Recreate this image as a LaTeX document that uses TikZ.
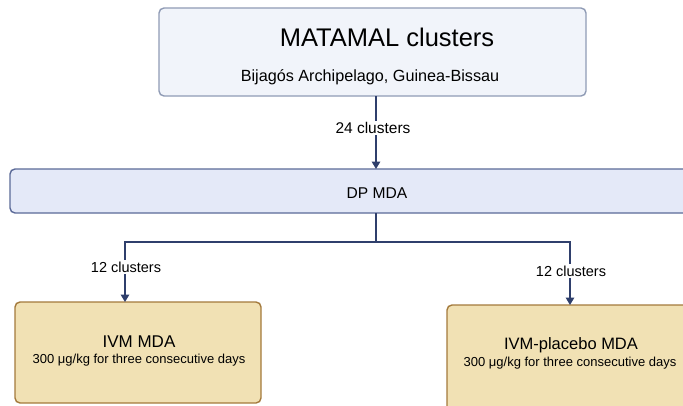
\documentclass[tikz,border=0pt]{standalone}
\usepackage{fontspec}
\setmainfont{Liberation Sans}
\usetikzlibrary{arrows.meta}
\definecolor{topfill}{HTML}{F1F4FA}
\definecolor{topdraw}{HTML}{8F9BB5}
\definecolor{dpfill}{HTML}{E4E9F8}
\definecolor{dpdraw}{HTML}{5B6A98}
\definecolor{armfill}{HTML}{F1E1B4}
\definecolor{armdraw}{HTML}{A47A3C}
\definecolor{flow}{HTML}{2F3F6C}
\tikzset{
  x=1pt, y=-1pt,
  boxbase/.style={rounded corners=5pt, line width=1.4pt},
  flowline/.style={draw=flow, line width=1.4pt},
  flowarrow/.style={flowline, -{Triangle[length=7.5pt,width=8.5pt]}},
  lbl/.style={font=\fontsize{14.5}{16}\selectfont, text=black, inner sep=1.5pt},
}
\begin{document}
\begin{tikzpicture}
\clip (0,0) rectangle (683,405);
\fill[white] (0,0) rectangle (683,405);

% enrolment box
\draw[boxbase, fill=topfill, draw=topdraw] (159,8) rectangle (586,96);
\node (title) at (387,37) {\fontsize{25.5}{28}\selectfont MATAMAL clusters};
\node (sub) at (370,77) {\fontsize{16.2}{19}\selectfont Bijagós Archipelago, Guinea-Bissau};
\coordinate (topout) at (376,96);

% DP MDA band
\draw[boxbase, fill=dpfill, draw=dpdraw] (10,169) rectangle (700,213);
\node (dp) at (377,193) {\fontsize{15.6}{18}\selectfont DP MDA};
\coordinate (dpin) at (376,169);
\coordinate (dpout) at (376,213);

% arm boxes
\draw[boxbase, fill=armfill, draw=armdraw] (15,302) rectangle (261,403);
\node (ivm) at (139,342) {\fontsize{17}{20}\selectfont IVM MDA};
\node (ivmdose) at (139,360) {\fontsize{13}{15}\selectfont 300 μg/kg for three consecutive days};
\coordinate (ivmin) at (125,302);

\draw[boxbase, fill=armfill, draw=armdraw] (447,305) rectangle (700,420);
\node (plc) at (571,345) {\fontsize{16.5}{19}\selectfont IVM-placebo MDA};
\node (plcdose) at (570,363) {\fontsize{13}{15}\selectfont 300 μg/kg for three consecutive days};
\coordinate (plcin) at (570,305);

% connector labels
\node[lbl, font=\fontsize{15.5}{17}\selectfont] (n24) at (373,128) {24 clusters};
\node[lbl] (n12a) at (126,267) {12 clusters};
\node[lbl] (n12b) at (571,271) {12 clusters};

% connectors
\draw[flowline] (topout) -- (topout |- n24.north);
\draw[flowarrow] (dpin |- n24.south) -- (dpin);

\coordinate (split) at (376,242);
\draw[flowline] (dpout) -- (split);
\draw[flowline] (ivmin |- n12a.north) -- (ivmin |- split) -- (plcin |- split) -- (plcin |- n12b.north);
\draw[flowarrow] (ivmin |- n12a.south) -- (ivmin);
\draw[flowarrow] (plcin |- n12b.south) -- (plcin);
\end{tikzpicture}
\end{document}
